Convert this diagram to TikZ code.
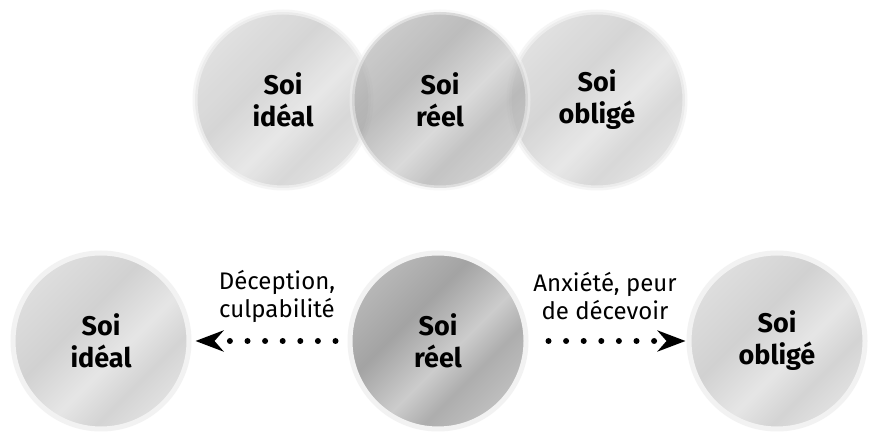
\documentclass[tikz,border=0pt]{standalone}
\usepackage{fontspec}
\setmainfont{Fira Sans}
\usetikzlibrary{arrows.meta}

% diagonal metallic shadings for the discs
\pgfdeclarehorizontalshading{realshade}{100bp}{color(0bp)=(black!28); color(25bp)=(black!28); color(40bp)=(black!36); color(55bp)=(black!20); color(64bp)=(black!32); color(75bp)=(black!25); color(100bp)=(black!25)}
\pgfdeclarehorizontalshading{softshade}{100bp}{color(0bp)=(black!13); color(25bp)=(black!13); color(42bp)=(black!18); color(56bp)=(black!10); color(66bp)=(black!17); color(75bp)=(black!12); color(100bp)=(black!12)}

\tikzset{
  disc/.style={circle, minimum size=176pt, inner sep=0pt, align=center,
    font=\bfseries\fontsize{27}{32}\selectfont, text=black,
    draw=black!5, line width=5pt, shading angle=-45},
  outerdisc/.style={disc, shading=softshade},
  realdisc/.style={disc, shading=realshade},
  feeling/.style={align=center, font=\fontsize{24}{28}\selectfont, text=black},
  link/.style={line width=6pt, line cap=round, dash pattern=on 0pt off 17.6pt,
    -{Stealth[length=28pt, width=21pt, inset=9pt]}}
}

\begin{document}
\begin{tikzpicture}[x=1pt, y=1pt]
\fill[white] (0,0) rectangle (877,441);
\useasboundingbox (0,0) rectangle (877,441);

% upper row: overlapping selves
\node[outerdisc, fill opacity=0.9, draw opacity=0.7, text opacity=1] (ti) at (283,341) {Soi\\idéal};
\node[outerdisc, fill opacity=0.9, draw opacity=0.7, text opacity=1] (to) at (597,341) {Soi\\obligé};
\node[realdisc, fill opacity=0.72, draw opacity=0.5, text opacity=1] (tr) at (440,341) {Soi\\réel};

% lower row: separated selves and the feelings between them
\node[outerdisc] (bi) at (101,100) {Soi\\idéal};
\node[realdisc]  (br) at (438,100) {Soi\\réel};
\node[outerdisc] (bo) at (777,100) {Soi\\obligé};

\coordinate (ls) at ([xshift=-12pt]br.west);
\coordinate (le) at ([xshift=4pt]bi.east);
\coordinate (rs) at ([xshift=20pt]br.east);
\coordinate (re) at ([xshift=-1pt]bo.west);

\draw[link] (ls) -- (le);
\draw[link] (rs) -- (re);

\node[feeling] (lbl1) at (277,145) {Déception,\\culpabilité};
\node[feeling] (lbl2) at (605,145) {Anxiété, peur\\de décevoir};
\end{tikzpicture}
\end{document}
